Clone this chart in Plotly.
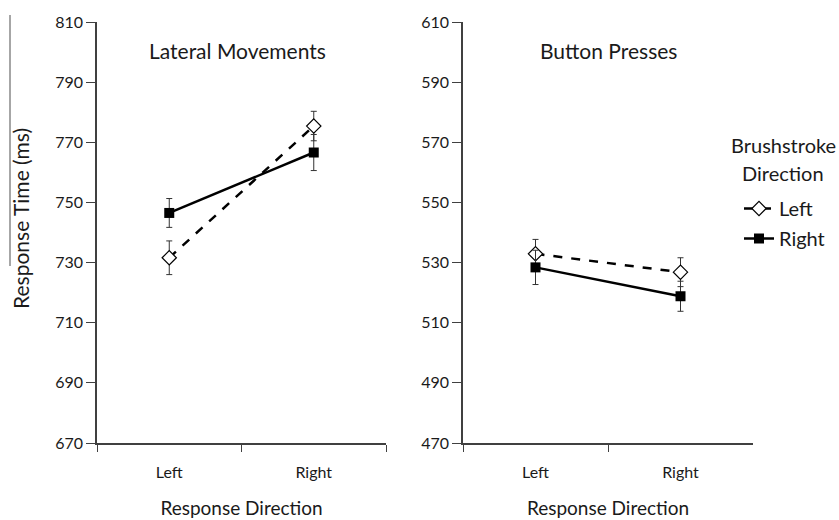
import plotly.graph_objects as go

categories = ["Left", "Right"]

# Lateral movements panel
lat_left_vals = [731.6, 775.4]
lat_left_err = [5.6, 4.9]
lat_right_vals = [746.5, 766.6]
lat_right_err = [4.8, 6.0]

# Button presses panel
btn_left_vals = [532.9, 526.8]
btn_left_err = [4.8, 4.8]
btn_right_vals = [528.4, 518.8]
btn_right_err = [5.7, 5.0]

y_ticks_lat = [670, 690, 710, 730, 750, 770, 790, 810]
y_ticks_btn = [470, 490, 510, 530, 550, 570, 590, 610]

FONT = "Lato, 'Open Sans', sans-serif"
AX = "#404040"
TXT = "#1a1a1a"

fig = go.Figure()

def add_pair(xa, ya, lv, le, rv, re, show):
    fig.add_trace(go.Scatter(
        x=categories, y=lv, xaxis=xa, yaxis=ya, name="Left",
        mode="lines+markers", legendgroup="a", showlegend=show,
        line=dict(color="black", width=2.5, dash="dash"),
        marker=dict(symbol="diamond", size=11, color="white",
                    line=dict(color="black", width=1.2)),
        error_y=dict(type="data", array=le, color="#333", thickness=1, width=3),
    ))
    fig.add_trace(go.Scatter(
        x=categories, y=rv, xaxis=xa, yaxis=ya, name="Right",
        mode="lines+markers", legendgroup="b", showlegend=show,
        line=dict(color="black", width=2.5),
        marker=dict(symbol="square", size=10, color="black"),
        error_y=dict(type="data", array=re, color="#333", thickness=1, width=3),
    ))

add_pair("x", "y", lat_left_vals, lat_left_err, lat_right_vals, lat_right_err, True)
add_pair("x2", "y2", btn_left_vals, btn_left_err, btn_right_vals, btn_right_err, False)

W, H = 839, 520
ml, mr, mt, mb = 97, 86, 22, 77
pw = W - ml - mr
ph = H - mt - mb

def px_x(p):
    return (p - ml) / pw

def px_y(p):
    return (H - mb - p) / ph

xaxis_common = dict(
    type="category", tickson="boundaries", ticks="outside", ticklen=7,
    tickcolor=AX, showline=True, linecolor=AX, linewidth=1.5,
    showgrid=False, zeroline=False, range=[-0.5, 1.5],
    ticklabelstandoff=14,
    tickfont=dict(family=FONT, size=16, color=TXT),
    title=dict(text="Response Direction", font=dict(family=FONT, size=19, color=TXT), standoff=22),
)
yaxis_common = dict(
    ticks="outside", ticklen=9, tickcolor=AX, showline=True, linecolor=AX,
    linewidth=1.5, showgrid=False, zeroline=False,
    tickfont=dict(family=FONT, size=16, color=TXT),
)

def ann(text, xp, yp, size, angle=0):
    return dict(text=text, x=px_x(xp), xref="paper", y=px_y(yp), yref="paper",
                xanchor="center", yanchor="middle", textangle=angle,
                showarrow=False, font=dict(family=FONT, size=size, color=TXT))

fig.update_layout(
    width=W, height=H,
    margin=dict(l=ml, r=mr, t=mt, b=mb, autoexpand=False),
    paper_bgcolor="white", plot_bgcolor="white",
    font=dict(family=FONT, color=TXT),
    xaxis=dict(domain=[0, px_x(386)], anchor="y", **xaxis_common),
    xaxis2=dict(domain=[px_x(463), 1], anchor="y2", **xaxis_common),
    yaxis=dict(domain=[0, 1], anchor="x", range=[670, 810],
               tickvals=y_ticks_lat, **yaxis_common),
    yaxis2=dict(domain=[0, 1], anchor="x2", range=[470, 610],
                tickvals=y_ticks_btn, **yaxis_common),
    showlegend=True,
    legend=dict(
        x=px_x(739), y=px_y(189), xanchor="left", yanchor="top",
        font=dict(family=FONT, size=20, color=TXT),
        traceorder="grouped", tracegroupgap=1, itemwidth=30,
        bgcolor="rgba(0,0,0,0)",
    ),
    annotations=[
        ann("Lateral Movements", 237, 50, 21),
        ann("Button Presses", 608, 50, 21),
        ann("Brushstroke", 783, 145, 20),
        ann("Direction", 783, 173, 20),
        ann("Response Time (ms)", 20, 219, 21, -90),
    ],
    shapes=[
        dict(type="line", xref="paper", yref="paper", x0=px_x(10), x1=px_x(10),
             y0=px_y(15), y1=px_y(266), line=dict(color="#888", width=1.5)),
    ],
)

fig.write_html("out.html")
